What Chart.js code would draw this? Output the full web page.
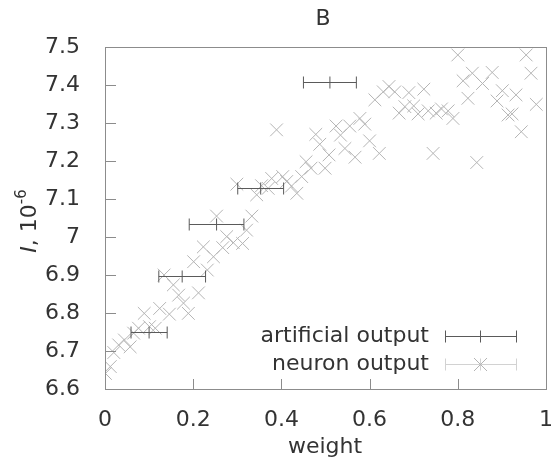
<!DOCTYPE html>
<html>
<head>
<meta charset="utf-8">
<script src="https://cdn.jsdelivr.net/npm/chart.js@4.4.0/dist/chart.umd.min.js"></script>
<style>
  html, body { margin: 0; padding: 0; background: #fff; }
  #wrap { width: 553px; height: 461px; }
</style>
</head>
<body>
<div id="wrap"><canvas id="chart"></canvas></div>
<script>
// artificial output: centre weight, current and horizontal half-width
const artWeight = [0.10, 0.175, 0.253, 0.353, 0.51];
const artCurrent = [6.751, 6.898, 7.033, 7.13, 7.407];
const artHalfWidth = [0.041, 0.053, 0.062, 0.052, 0.06];

// neuron output
const neuronWeight = [0.001, 0.012, 0.020, 0.031, 0.044, 0.057, 0.065, 0.076, 0.089, 0.101,
  0.114, 0.124, 0.134, 0.146, 0.155, 0.167, 0.178, 0.189, 0.201, 0.212,
  0.223, 0.232, 0.246, 0.253, 0.267, 0.276, 0.291, 0.299, 0.312, 0.321,
  0.333, 0.344, 0.355, 0.370, 0.378, 0.389, 0.403, 0.412, 0.423, 0.435,
  0.446, 0.456, 0.467, 0.478, 0.487, 0.499, 0.508, 0.524, 0.534, 0.544,
  0.555, 0.567, 0.578, 0.589, 0.600, 0.612, 0.622, 0.631, 0.644, 0.657,
  0.667, 0.680, 0.689, 0.700, 0.710, 0.723, 0.733, 0.744, 0.751, 0.763,
  0.778, 0.789, 0.800, 0.812, 0.823, 0.833, 0.843, 0.856, 0.878, 0.889,
  0.901, 0.914, 0.923, 0.932, 0.944, 0.955, 0.966, 0.978];
const neuronCurrent = [6.641, 6.659, 6.696, 6.716, 6.729, 6.711, 6.747, 6.760, 6.799, 6.764,
  6.760, 6.812, 6.900, 6.797, 6.874, 6.847, 6.826, 6.799, 6.935, 6.853,
  6.974, 6.913, 6.948, 7.055, 6.972, 7.001, 6.985, 7.139, 6.983, 7.018,
  7.055, 7.111, 7.135, 7.128, 7.154, 7.282, 7.159, 7.146, 7.134, 7.115,
  7.159, 7.198, 7.181, 7.270, 7.244, 7.181, 7.216, 7.292, 7.268, 7.233,
  7.292, 7.210, 7.312, 7.297, 7.253, 7.361, 7.220, 7.382, 7.396, 7.382,
  7.326, 7.343, 7.380, 7.345, 7.324, 7.389, 7.332, 7.220, 7.326, 7.337,
  7.332, 7.312, 7.479, 7.411, 7.365, 7.431, 7.196, 7.404, 7.433, 7.358,
  7.385, 7.321, 7.324, 7.374, 7.277, 7.479, 7.431, 7.349];

const xTicks = [0, 0.2, 0.4, 0.6, 0.8, 1];
const yTicks = [6.6, 6.7, 6.8, 6.9, 7, 7.1, 7.2, 7.3, 7.4, 7.5];
const legendLabels = ['artificial output', 'neuron output'];

const FONT = '"DejaVu Sans", sans-serif';
const TEXT = '#333333';
const FRAME = '#8c8c8c';
const ART_COLOR = '#5a5a5a';
const NEURON_COLOR = '#b4b4b4';

// error bars with caps and centre tick, drawn through the scales
function drawErrorBar(ctx, x0, x1, xm, y, color) {
  ctx.strokeStyle = color;
  ctx.lineWidth = 1;
  ctx.beginPath();
  ctx.moveTo(x0, y); ctx.lineTo(x1, y);
  ctx.moveTo(x0, y - 6); ctx.lineTo(x0, y + 6);
  ctx.moveTo(x1, y - 6); ctx.lineTo(x1, y + 6);
  ctx.moveTo(xm, y - 6); ctx.lineTo(xm, y + 6);
  ctx.stroke();
}

const decorPlugin = {
  id: 'decor',
  afterDatasetsDraw(chart) {
    const ctx = chart.ctx;
    const xs = chart.scales.x, ys = chart.scales.y;
    ctx.save();
    artWeight.forEach((w, i) => {
      const y = Math.round(ys.getPixelForValue(artCurrent[i])) + 0.5;
      drawErrorBar(ctx,
        xs.getPixelForValue(w - artHalfWidth[i]),
        xs.getPixelForValue(w + artHalfWidth[i]),
        xs.getPixelForValue(w), y, ART_COLOR);
    });
    ctx.restore();
  },
  afterDraw(chart) {
    const ctx = chart.ctx;
    const a = chart.chartArea;
    const xs = chart.scales.x, ys = chart.scales.y;
    ctx.save();

    // frame and inward ticks
    ctx.strokeStyle = FRAME;
    ctx.lineWidth = 1;
    ctx.strokeRect(Math.round(a.left) + 0.5, Math.round(a.top) + 0.5,
      Math.round(a.right - a.left), Math.round(a.bottom - a.top));
    ctx.beginPath();
    xTicks.slice(1, -1).forEach(v => {
      const x = Math.round(xs.getPixelForValue(v)) + 0.5;
      ctx.moveTo(x, a.bottom); ctx.lineTo(x, a.bottom - 10);
    });
    yTicks.slice(1, -1).forEach(v => {
      const y = Math.round(ys.getPixelForValue(v)) + 0.5;
      ctx.moveTo(a.left, y); ctx.lineTo(a.left + 11, y);
    });
    ctx.stroke();

    // title and axis labels
    ctx.fillStyle = TEXT;
    ctx.textAlign = 'center';
    ctx.textBaseline = 'middle';
    ctx.font = '22px ' + FONT;
    ctx.fillText('B', 323, 19);
    ctx.fillText('weight', 325, 447);

    ctx.save();
    ctx.translate(30, 221);
    ctx.rotate(-Math.PI / 2);
    ctx.textAlign = 'left';
    ctx.font = 'italic 22px ' + FONT;
    const w1 = ctx.measureText('I').width;
    ctx.font = '22px ' + FONT;
    const w2 = ctx.measureText(', 10').width;
    ctx.font = '15px ' + FONT;
    const w3 = ctx.measureText('-6').width;
    let x = -(w1 + w2 + w3) / 2;
    ctx.font = 'italic 22px ' + FONT;
    ctx.fillText('I', x, 0); x += w1;
    ctx.font = '22px ' + FONT;
    ctx.fillText(', 10', x, 0); x += w2;
    ctx.font = '15px ' + FONT;
    ctx.fillText('-6', x, -8);
    ctx.restore();

    // legend
    ctx.font = '22px ' + FONT;
    ctx.textAlign = 'right';
    const rows = [336, 364];
    ctx.fillText(legendLabels[0], 429, rows[0]);
    ctx.fillText(legendLabels[1], 429, rows[1]);
    drawErrorBar(ctx, 445.5, 516.5, 480.5, rows[0] + 0.5, ART_COLOR);
    drawErrorBar(ctx, 445.5, 516.5, 480.5, rows[1] + 0.5, '#d2d2d2');
    ctx.strokeStyle = NEURON_COLOR;
    ctx.beginPath();
    ctx.moveTo(474, rows[1] - 6); ctx.lineTo(487, rows[1] + 7);
    ctx.moveTo(474, rows[1] + 7); ctx.lineTo(487, rows[1] - 6);
    ctx.stroke();

    ctx.restore();
  }
};

const points = neuronWeight.map((w, i) => ({ x: w, y: neuronCurrent[i] }));

new Chart(document.getElementById('chart'), {
  type: 'scatter',
  data: {
    datasets: [{
      label: legendLabels[1],
      data: points,
      pointStyle: 'crossRot',
      pointRadius: 9,
      pointBorderWidth: 1,
      borderColor: NEURON_COLOR,
      backgroundColor: NEURON_COLOR
    }]
  },
  options: {
    responsive: true,
    maintainAspectRatio: false,
    animation: false,
    devicePixelRatio: 1,
    layout: { autoPadding: false, padding: { left: 0, top: 47, right: 7, bottom: 0 } },
    plugins: {
      legend: { display: false },
      tooltip: { enabled: false }
    },
    scales: {
      x: {
        type: 'linear',
        min: 0,
        max: 1,
        afterFit: s => { s.height = 72; s.paddingLeft = 0; s.paddingRight = 0; },
        afterBuildTicks: s => { s.ticks = xTicks.map(v => ({ value: v })); },
        grid: { display: false },
        border: { display: false },
        ticks: {
          font: { family: FONT, size: 22 },
          color: TEXT,
          padding: 10,
          maxRotation: 0,
          callback: v => String(Number(v.toFixed(1)))
        }
      },
      y: {
        type: 'linear',
        min: 6.6,
        max: 7.5,
        afterFit: s => { s.width = 105; s.paddingTop = 0; s.paddingBottom = 0; },
        afterBuildTicks: s => { s.ticks = yTicks.map(v => ({ value: v })); },
        grid: { display: false },
        border: { display: false },
        ticks: {
          font: { family: FONT, size: 22 },
          color: TEXT,
          padding: 17,
          callback: v => String(Number(v.toFixed(1)))
        }
      }
    }
  },
  plugins: [decorPlugin]
});
</script>
</body>
</html>
